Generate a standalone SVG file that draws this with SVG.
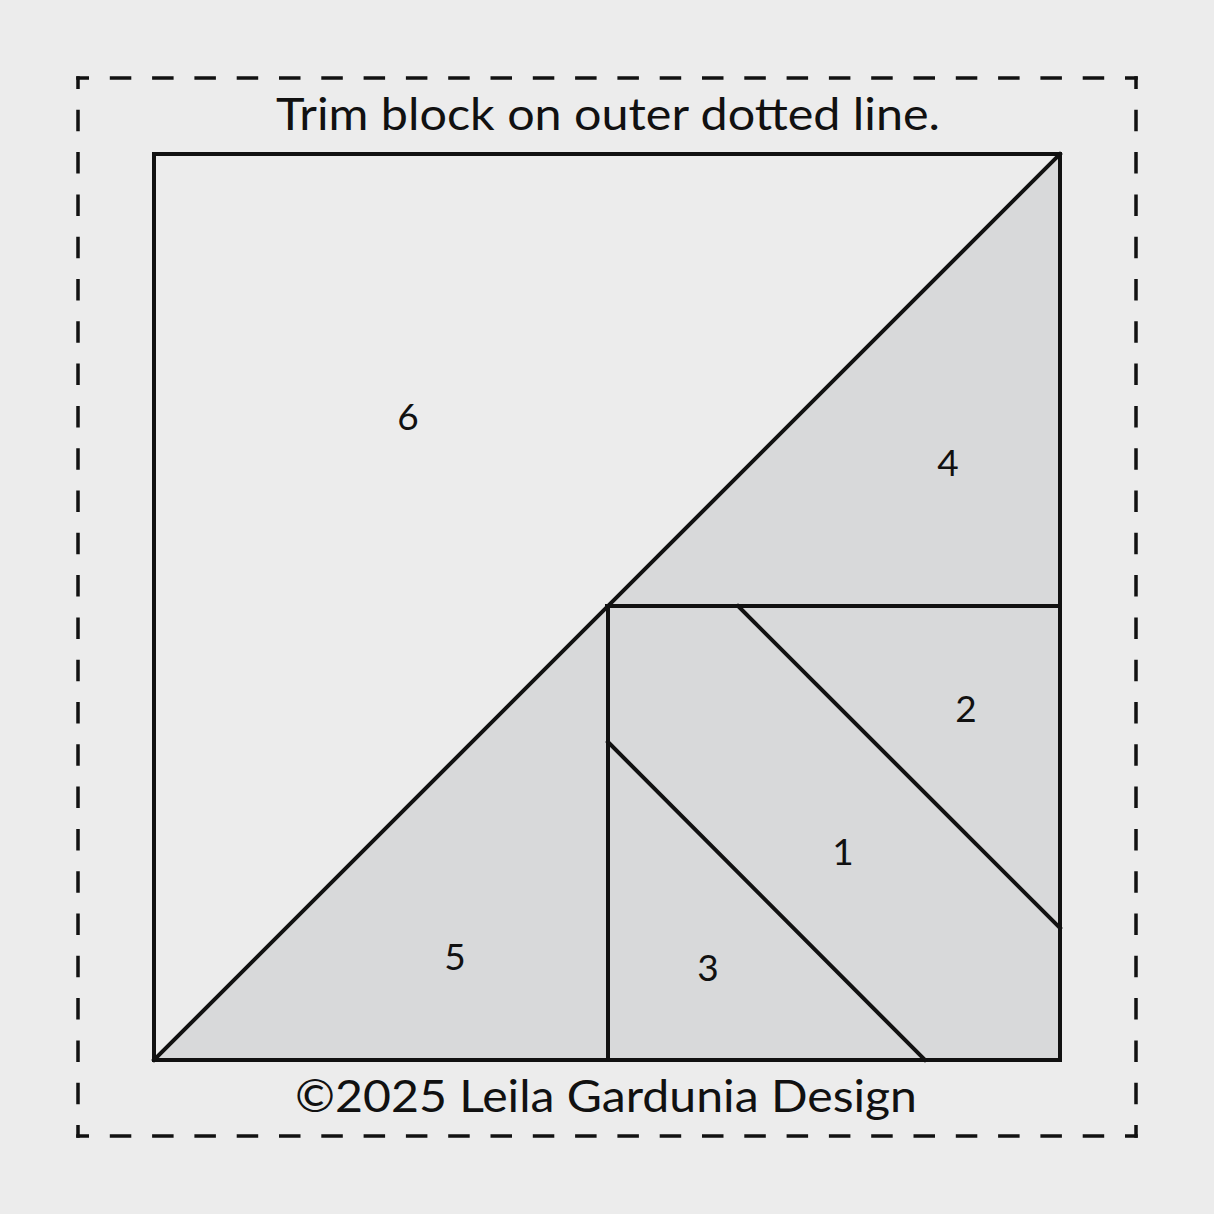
<svg xmlns="http://www.w3.org/2000/svg" width="1214" height="1214" viewBox="0 0 1214 1214">
<style>
.edge{stroke:#111;stroke-width:4;fill:none;stroke-linecap:square}
.dash{stroke:#111;stroke-width:3.5;fill:none;stroke-linecap:square;stroke-dasharray:18 24.3;stroke-dashoffset:8.75}
.lbl{font-family:Lato,"Noto Sans","Liberation Sans",sans-serif;font-weight:400;fill:#111;text-anchor:middle}
.num{font-size:37px}
.cap{font-size:45px}
.grey{fill:#d8d9da}
</style>
<rect width="1214" height="1214" fill="#ececec"/>
<g id="trim-border">
<line class="dash" x1="78" y1="78" x2="1136" y2="78"/>
<line class="dash" x1="1136" y1="78" x2="1136" y2="1136"/>
<line class="dash" x1="1136" y1="1136" x2="78" y2="1136"/>
<line class="dash" x1="78" y1="1136" x2="78" y2="78"/>
</g>
<g id="piece6"><polygon points="154,154 1060,154 154,1060" fill="#ececec"/><text class="lbl num" x="408" y="430">6</text></g>
<g id="piece4"><polygon class="grey" points="1060,154 1060,606 607,606"/><text class="lbl num" x="948" y="476">4</text></g>
<g id="piece5"><polygon class="grey" points="154,1060 607,606 608,1060"/><text class="lbl num" x="455" y="970">5</text></g>
<g id="piece2"><polygon class="grey" points="738,606 1060,606 1060,928"/><text class="lbl num" x="966" y="722">2</text></g>
<g id="piece1"><polygon class="grey" points="608,606 738,606 1060,928 1060,1060 925,1060 608,742"/><text class="lbl num" x="843" y="865">1</text></g>
<g id="piece3"><polygon class="grey" points="608,742 925,1060 608,1060"/><text class="lbl num" x="708" y="981">3</text></g>
<g id="connectors">
<rect class="edge" x="154" y="154" width="906" height="906"/>
<line class="edge" x1="154" y1="1060" x2="1060" y2="154"/>
<line class="edge" x1="607" y1="606" x2="1060" y2="606"/>
<line class="edge" x1="608" y1="606" x2="608" y2="1060"/>
<line class="edge" x1="738" y1="606" x2="1060" y2="928"/>
<line class="edge" x1="608" y1="742" x2="925" y2="1060"/>
</g>
<text class="lbl cap" x="608" y="130" textLength="664" lengthAdjust="spacingAndGlyphs">Trim block on outer dotted line.</text>
<text class="lbl cap" x="606" y="1112" textLength="622" lengthAdjust="spacingAndGlyphs">©2025 Leila Gardunia Design</text>
</svg>
